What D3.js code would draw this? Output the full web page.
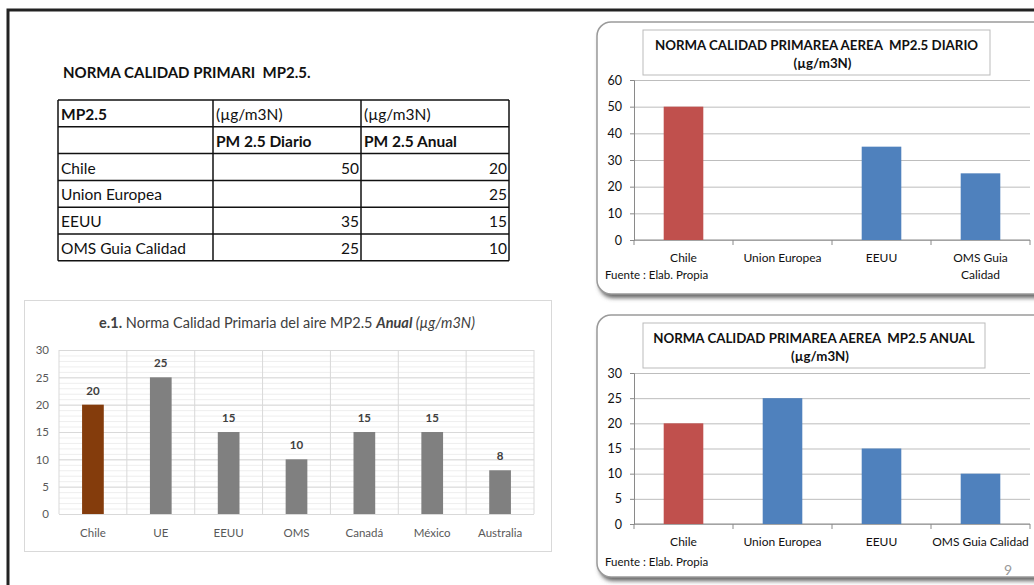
<!DOCTYPE html>
<html>
<head>
    <title>Norma Calidad Primaria MP2.5</title>
    <script src="https://d3js.org/d3.v7.min.js"></script>
    <style>
        body { margin: 0; background: #fff; }
        svg text { font-family: Lato, "Open Sans", sans-serif; }
    </style>
</head>
<body>
    <script>
        // data
        const countries = ["Chile", "Union Europea", "EEUU", "OMS Guia Calidad"];
        const diario = [50, null, 35, 25];
        const anual = [20, 25, 15, 10];
        const diarioTicks = [0, 10, 20, 30, 40, 50, 60];
        const anualTicks = [0, 5, 10, 15, 20, 25, 30];

        const e1Countries = ["Chile", "UE", "EEUU", "OMS", "Canadá", "México", "Australia"];
        const e1Values = [20, 25, 15, 10, 15, 15, 8];
        const e1Ticks = [0, 5, 10, 15, 20, 25, 30];

        const svg = d3.select("body")
          .append("svg")
            .attr("width", 1034)
            .attr("height", 585);

        const defs = svg.append("defs");
        defs.append("filter").attr("id", "blur")
            .append("feGaussianBlur").attr("stdDeviation", 2);

        // slide frame
        svg.append("path")
            .attr("d", "M8,585 V10 H1034")
            .attr("fill", "none")
            .attr("stroke", "#222")
            .attr("stroke-width", 3);

        // title and table
        svg.append("text")
            .attr("x", 63).attr("y", 78)
            .attr("font-size", 15).attr("font-weight", "bold")
            .attr("fill", "#111")
            .style("white-space", "pre")
            .text("NORMA CALIDAD PRIMARI  MP2.5.");

        const colX = [58, 213, 361, 509];
        const rowY = d3.range(7).map(i => 100 + i * 26.8);
        const tbl = svg.append("g");
        colX.forEach(x => tbl.append("line")
            .attr("x1", x).attr("x2", x).attr("y1", rowY[0]).attr("y2", rowY[6])
            .attr("stroke", "#111").attr("stroke-width", 1.5));
        rowY.forEach(y => tbl.append("line")
            .attr("x1", colX[0]).attr("x2", colX[3]).attr("y1", y).attr("y2", y)
            .attr("stroke", "#111").attr("stroke-width", 1.5));

        const cell = (c, r, txt, opts = {}) => tbl.append("text")
            .attr("x", opts.right ? colX[c + 1] - 2 : colX[c] + 3)
            .attr("y", rowY[r] + 20)
            .attr("text-anchor", opts.right ? "end" : "start")
            .attr("font-size", 15.5)
            .attr("font-weight", opts.bold ? "bold" : "normal")
            .attr("fill", "#111")
            .text(txt);

        cell(0, 0, "MP2.5", {bold: true});
        cell(1, 0, "(µg/m3N)");
        cell(2, 0, "(µg/m3N)");
        cell(1, 1, "PM 2.5 Diario", {bold: true});
        cell(2, 1, "PM 2.5 Anual", {bold: true});
        countries.forEach((c, i) => {
            cell(0, i + 2, c);
            if (diario[i] != null) cell(1, i + 2, diario[i], {right: true});
            if (anual[i] != null) cell(2, i + 2, anual[i], {right: true});
        });

        // right hand charts (old excel style)
        function panelChart(top, height, title, values, ticks, plotTop, plotBottom, wrapLast, page) {
            const g = svg.append("g");
            g.append("rect")
                .attr("x", 599).attr("y", top + 4).attr("width", 470).attr("height", height)
                .attr("rx", 14).attr("fill", "#666").attr("filter", "url(#blur)");
            g.append("rect")
                .attr("x", 597).attr("y", top).attr("width", 470).attr("height", height)
                .attr("rx", 14).attr("fill", "#fff")
                .attr("stroke", "#9a9a9a").attr("stroke-width", 1.5);

            const x = d3.scaleBand()
                .domain(countries)
                .range([634, 1030])
                .paddingInner(0.6)
                .paddingOuter(0.3);
            const y = d3.scaleLinear()
                .domain([0, d3.max(ticks)])
                .range([plotBottom, plotTop]);

            g.append("g")
                .call(d3.axisLeft(y).tickValues(ticks).tickSize(-396).tickFormat(""))
                .attr("transform", "translate(634,0)")
                .call(a => a.select(".domain").remove())
                .selectAll("line").attr("stroke", "#bdbdbd");

            g.append("g")
                .attr("transform", "translate(634,0)")
                .call(d3.axisLeft(y).tickValues(ticks).tickSize(4).tickPadding(8))
                .call(a => a.select(".domain").attr("stroke", "#8a8a8a"))
                .call(a => a.selectAll("line").attr("stroke", "#8a8a8a"))
                .selectAll("text")
                    .attr("font-size", 12.5).attr("fill", "#111")
                    .style("font-family", "Lato, sans-serif");

            // category axis with ticks at band edges
            const edges = countries.map(c => x(c) - x.step() * x.paddingInner() / 2);
            edges.push(1030);
            edges[0] = 634;
            g.append("line")
                .attr("x1", 634).attr("x2", 1030).attr("y1", plotBottom).attr("y2", plotBottom)
                .attr("stroke", "#8a8a8a");
            g.selectAll(".etick").data(edges).join("line")
                .attr("x1", d => d).attr("x2", d => d)
                .attr("y1", plotBottom).attr("y2", plotBottom + 5)
                .attr("stroke", "#8a8a8a");

            g.selectAll(".bar").data(countries).join("rect")
                .attr("x", d => x(d))
                .attr("width", x.bandwidth())
                .attr("y", (d, i) => values[i] == null ? plotBottom : y(values[i]))
                .attr("height", (d, i) => values[i] == null ? 0 : plotBottom - y(values[i]))
                .attr("fill", (d, i) => i === 0 ? "#C0504D" : "#4F81BD");

            g.selectAll(".lbl").data(countries).join("text")
                .attr("x", d => x(d) + x.bandwidth() / 2)
                .attr("y", plotBottom + 22)
                .attr("text-anchor", "middle")
                .attr("font-size", 12).attr("fill", "#111")
                .each(function(d, i) {
                    const t = d3.select(this);
                    if (wrapLast && i === countries.length - 1) {
                        const parts = d.split(" ");
                        t.append("tspan").attr("x", x(d) + x.bandwidth() / 2).text(parts.slice(0, 2).join(" "));
                        t.append("tspan").attr("x", x(d) + x.bandwidth() / 2).attr("dy", 17).text(parts.slice(2).join(" "));
                    } else {
                        t.text(d);
                    }
                });

            g.append("text")
                .attr("x", 605).attr("y", plotBottom + (wrapLast ? 39 : 42))
                .attr("font-size", 11.5).attr("fill", "#111")
                .text("Fuente : Elab. Propia");

            // title box
            g.append("rect")
                .attr("x", 643).attr("y", top + 8).attr("width", title.w).attr("height", 45)
                .attr("fill", "#fff").attr("stroke", "#bbb").attr("stroke-width", 1);
            g.append("text")
                .attr("x", 643 + title.w / 2).attr("y", top + 28)
                .attr("text-anchor", "middle").attr("font-size", 13.3).attr("font-weight", "bold")
                .attr("fill", "#111").style("white-space", "pre")
                .text(title.l1);
            g.append("text")
                .attr("x", 643 + title.w / 2 + 6).attr("y", top + 46)
                .attr("text-anchor", "middle").attr("font-size", 13.3).attr("font-weight", "bold")
                .attr("fill", "#111")
                .text("(µg/m3N)");

            if (page) {
                g.append("text")
                    .attr("x", 1004).attr("y", top + height - 2)
                    .attr("font-size", 14).attr("fill", "#999")
                    .text(page);
            }
        }

        panelChart(22, 272, {l1: "NORMA CALIDAD PRIMAREA AEREA  MP2.5 DIARIO", w: 347},
            diario, diarioTicks, 80, 240, true, null);
        panelChart(315, 262, {l1: "NORMA CALIDAD PRIMAREA AEREA  MP2.5 ANUAL", w: 342},
            anual, anualTicks, 373, 524, false, "9");

        // bottom-left chart e.1
        const e1 = svg.append("g");
        e1.append("rect")
            .attr("x", 24.5).attr("y", 300.5).attr("width", 527).attr("height", 251)
            .attr("fill", "#fff").attr("stroke", "#d9d9d9");

        const t = e1.append("text")
            .attr("x", 287).attr("y", 328)
            .attr("text-anchor", "middle").attr("font-size", 14.5).attr("fill", "#404040")
            .style("white-space", "pre");
        t.append("tspan").attr("font-weight", "bold").text("e.1.");
        t.append("tspan").text(" Norma Calidad Primaria del aire MP2.5 ");
        t.append("tspan").attr("font-weight", "bold").attr("font-style", "italic").text("Anual");
        t.append("tspan").attr("font-style", "italic").text(" (µg/m3N)");

        const ex = d3.scaleBand()
            .domain(e1Countries)
            .range([59, 534])
            .paddingInner(0.68)
            .paddingOuter(0.34);
        const ey = d3.scaleLinear().domain([0, 30]).range([514, 350]);

        // minor and major gridlines
        e1.append("g")
            .attr("transform", "translate(59,0)")
            .call(d3.axisLeft(ey).tickValues(d3.range(0, 31, 1)).tickSize(-475).tickFormat(""))
            .call(a => a.select(".domain").remove())
            .selectAll("line").attr("stroke", "#eeeeee");
        e1.append("g")
            .attr("transform", "translate(59,0)")
            .call(d3.axisLeft(ey).tickValues(e1Ticks).tickSize(-475).tickFormat(""))
            .call(a => a.select(".domain").remove())
            .selectAll("line").attr("stroke", "#d9d9d9");
        const vEdges = e1Countries.map(c => ex(c) - ex.step() * ex.paddingInner() / 2);
        vEdges[0] = 59;
        vEdges.push(534);
        e1.selectAll(".vg").data(vEdges).join("line")
            .attr("x1", d => d).attr("x2", d => d).attr("y1", 350).attr("y2", 514)
            .attr("stroke", "#d9d9d9");

        e1.append("g")
            .attr("transform", "translate(59,0)")
            .call(d3.axisLeft(ey).tickValues(e1Ticks).tickSize(0).tickPadding(10))
            .call(a => a.select(".domain").remove())
            .selectAll("text")
                .attr("font-size", 11.5).attr("fill", "#595959")
                .style("font-family", "Lato, sans-serif");

        e1.selectAll(".bar").data(e1Countries).join("rect")
            .attr("x", d => ex(d))
            .attr("width", ex.bandwidth())
            .attr("y", (d, i) => ey(e1Values[i]))
            .attr("height", (d, i) => 514 - ey(e1Values[i]))
            .attr("fill", (d, i) => i === 0 ? "#843C0C" : "#808080");

        e1.selectAll(".val").data(e1Countries).join("text")
            .attr("x", d => ex(d) + ex.bandwidth() / 2)
            .attr("y", (d, i) => ey(e1Values[i]) - 10)
            .attr("text-anchor", "middle")
            .attr("font-size", 11.5).attr("font-weight", "bold").attr("fill", "#404040")
            .text((d, i) => e1Values[i]);

        e1.selectAll(".cat").data(e1Countries).join("text")
            .attr("x", d => ex(d) + ex.bandwidth() / 2)
            .attr("y", 537)
            .attr("text-anchor", "middle")
            .attr("font-size", 11.5).attr("fill", "#595959")
            .text(d => d);
    </script>
</body>
</html>
